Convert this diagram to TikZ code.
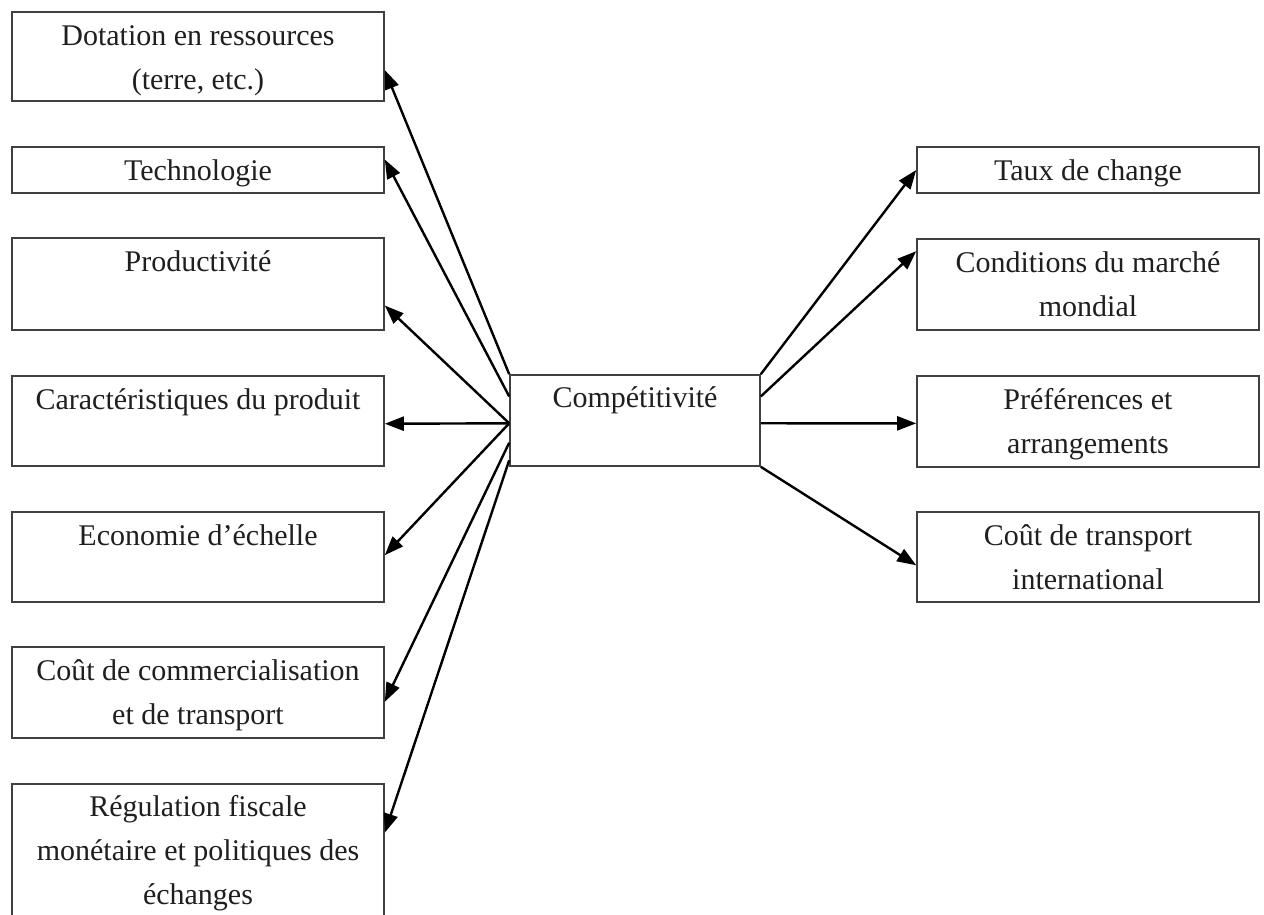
\documentclass[tikz,border=0pt]{standalone}
\usepackage{fontspec}
\setmainfont{Liberation Serif}
\usetikzlibrary{arrows.meta,calc}
\newcommand\lblstrut{\rule{0pt}{28pt}}
\begin{document}
\begin{tikzpicture}[x=1pt,y=-1pt,
  box/.style={draw=black!75,line width=1.6pt,inner sep=0pt,minimum width=372pt},
  rbox/.style={box,minimum width=342pt},
  lbl/.style={anchor=north,inner sep=0pt,align=center,text=black!88,
    font=\fontsize{30}{44}\selectfont},
  arr/.style={line width=2.4pt,-{Triangle[length=19pt,width=14pt]}}]
\useasboundingbox[fill=white] (0,0) rectangle (1264,914);
% left boxes
\node[box,minimum height=89pt] (d) at (198,56.5) {};
\node[box,minimum height=46pt] (t) at (198,170) {};
\node[box,minimum height=92pt] (p) at (198,284) {};
\node[box,minimum height=90pt] (ca) at (198,421) {};
\node[box,minimum height=90pt] (e) at (198,557) {};
\node[box,minimum height=91pt] (cc) at (198,692.5) {};
\node[box,minimum height=146pt] (r) at (198,857) {};
% centre
\node[box,minimum width=250pt,minimum height=91pt] (c) at (635,420.5) {};
% right boxes
\node[rbox,minimum height=46pt] (tx) at (1088,170) {};
\node[rbox,minimum height=91pt] (co) at (1088,284.5) {};
\node[rbox,minimum height=91pt] (pr) at (1088,421.5) {};
\node[rbox,minimum height=90pt] (ct) at (1088,557) {};
% labels
\node[lbl] (dl) at ($(d.north)+(0,6)$) {\lblstrut Dotation en ressources\\(terre, etc.)};
\node[lbl] (tl) at ($(t.north)+(0,6)$) {\lblstrut Technologie};
\node[lbl] (pl) at ($(p.north)+(0,6)$) {\lblstrut Productivité};
\node[lbl] (cal) at ($(ca.north)+(0,6)$) {\lblstrut Caractéristiques du produit};
\node[lbl] (el) at ($(e.north)+(0,6)$) {\lblstrut Economie d’échelle};
\node[lbl] (ccl) at ($(cc.north)+(0,6)$) {\lblstrut Coût de commercialisation\\et de transport};
\node[lbl] (rl) at ($(r.north)+(0,5)$) {\lblstrut Régulation fiscale\\monétaire et politiques des\\échanges};
\node[lbl] (cl) at ($(c.north)+(0,5)$) {\lblstrut Compétitivité};
\node[lbl] (txl) at ($(tx.north)+(0,6)$) {\lblstrut Taux de change};
\node[lbl] (col) at ($(co.north)+(0,6)$) {\lblstrut Conditions du marché\\mondial};
\node[lbl] (prl) at ($(pr.north)+(0,6)$) {\lblstrut Préférences et\\arrangements};
\node[lbl] (ctl) at ($(ct.north)+(0,6)$) {\lblstrut Coût de transport\\international};
% left arrows
\draw[arr] ($(c.north west)!0!(c.south west)$) -- ($(d.north east)!0.65!(d.south east)$);
\draw[arr] ($(c.north west)!0.24!(c.south west)$) -- ($(t.north east)!0.28!(t.south east)$);
\draw[arr] ($(c.north west)!0.53!(c.south west)$) -- ($(p.north east)!0.73!(p.south east)$);
\draw[arr] ($(c.north west)!0.53!(c.south west)$) -- ($(ca.north east)!0.53!(ca.south east)$);
\draw[arr] ($(c.north west)!0.53!(c.south west)$) -- ($(e.north east)!0.48!(e.south east)$);
\draw[arr] ($(c.north west)!0.74!(c.south west)$) -- ($(cc.north east)!0.6!(cc.south east)$);
\draw[arr] ($(c.north west)!0.93!(c.south west)$) -- ($(r.north east)!0.335!(r.south east)$);
% right arrows
\draw[arr] ($(c.north east)!0!(c.south east)$) -- (tx.west);
\draw[arr] ($(c.north east)!0.24!(c.south east)$) -- ($(co.north west)!0.14!(co.south west)$);
\draw[arr] ($(c.north east)!0.53!(c.south east)$) -- ($(pr.north west)!0.52!(pr.south west)$);
\draw[arr] ($(c.north east)!1!(c.south east)$) -- ($(ct.north west)!0.59!(ct.south west)$);
\end{tikzpicture}
\end{document}
